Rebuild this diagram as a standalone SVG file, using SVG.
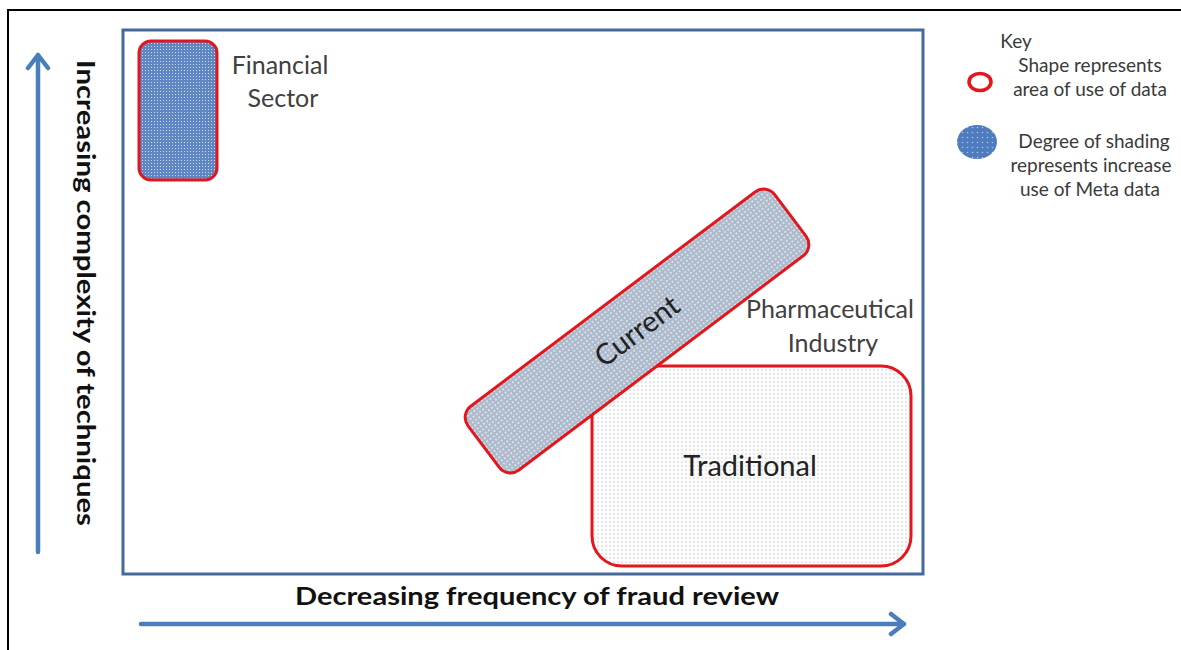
<svg xmlns="http://www.w3.org/2000/svg" width="1181" height="650" viewBox="0 0 1181 650">
  <defs>
    <style>
      .frame { fill: none; stroke: #000; stroke-width: 2; }
      .plot { fill: #fff; stroke: #44699b; stroke-width: 3; }
      .area { stroke: #e3151d; stroke-width: 3; }
      .axis { fill: none; stroke: #4a7ebb; stroke-width: 4.5; stroke-linecap: round; stroke-linejoin: round; }
      .lbl { font-family: Lato, "Open Sans", "Liberation Sans", sans-serif; fill: #404040; text-anchor: middle; }
      .inner { font-family: Lato, "Open Sans", "Liberation Sans", sans-serif; fill: #222; text-anchor: middle; }
      .axt { font-family: Lato, "Open Sans", "Liberation Sans", sans-serif; font-weight: bold; fill: #111; text-anchor: middle; }
      .key { font-family: Lato, "Open Sans", "Liberation Sans", sans-serif; fill: #3a3a3a; text-anchor: middle; font-size: 19px; }
    </style>
    <pattern id="dense" width="3" height="3" patternUnits="userSpaceOnUse">
      <rect width="3" height="3" fill="#5f87c3"/>
      <rect x="1" y="1" width="1" height="1" fill="#c9d8ee"/>
    </pattern>
    <pattern id="medium" width="4" height="4" patternUnits="userSpaceOnUse">
      <rect width="4" height="4" fill="#acbacb"/>
      <circle cx="2" cy="2" r="0.9" fill="#eef2f7"/>
    </pattern>
    <pattern id="light" width="4" height="4" patternUnits="userSpaceOnUse">
      <rect width="4" height="4" fill="#fcfcfc"/>
      <circle cx="2" cy="2" r="0.7" fill="#c2c2c2"/>
    </pattern>
    <pattern id="keydots" width="5" height="5" patternUnits="userSpaceOnUse">
      <rect width="5" height="5" fill="#4f7cbf"/>
      <circle cx="2.5" cy="2.5" r="0.8" fill="#a9c1e4"/>
    </pattern>
  </defs>

  <rect width="1181" height="650" fill="#fff"/>
  <rect class="frame" x="8" y="10" width="1190" height="660"/>

  <!-- plotting area -->
  <rect class="plot" x="123" y="30" width="800" height="544"/>

  <!-- axes -->
  <g id="connectors">
    <path class="axis" d="M38,552 V55 M28,68 L38,55 L48,68"/>
    <path class="axis" d="M141,624 H904 M891,614 L904,624 L891,634"/>
  </g>

  <text class="axt" font-size="24" transform="translate(77,293) rotate(90)" textLength="466" lengthAdjust="spacingAndGlyphs">Increasing complexity of techniques</text>
  <text class="axt" x="537" y="605" font-size="24" textLength="484" lengthAdjust="spacingAndGlyphs">Decreasing frequency of fraud review</text>

  <!-- financial sector -->
  <g id="financial">
    <rect class="area" x="139" y="41" width="78" height="139" rx="12" fill="url(#dense)"/>
    <text class="lbl" x="280" y="74" font-size="25">Financial</text>
    <text class="lbl" x="283" y="107" font-size="25">Sector</text>
  </g>

  <!-- traditional -->
  <g id="traditional">
    <rect class="area" x="592" y="366" width="319" height="200" rx="30" fill="url(#light)"/>
    <text class="inner" x="750" y="476" font-size="29">Traditional</text>
  </g>

  <!-- pharmaceutical label -->
  <g id="pharma">
    <text class="lbl" x="830" y="318" font-size="25">Pharmaceutical</text>
    <text class="lbl" x="833" y="352" font-size="25">Industry</text>
  </g>

  <!-- current -->
  <g id="current" transform="translate(637,331) rotate(-37)">
    <rect class="area" x="-192" y="-40" width="384" height="80" rx="14" fill="url(#medium)"/>
    <text class="inner" x="0" y="10" font-size="29">Current</text>
  </g>

  <!-- key -->
  <g id="key">
    <text class="key" x="1016" y="48" font-size="18">Key</text>
    <ellipse cx="980" cy="82" rx="11" ry="8.5" fill="none" stroke="#e3151d" stroke-width="3.5"/>
    <text class="key" x="1090" y="72">Shape represents</text>
    <text class="key" x="1090" y="96">area of use of data</text>
    <ellipse cx="977" cy="142" rx="20" ry="17" fill="url(#keydots)"/>
    <text class="key" x="1094" y="148">Degree of shading</text>
    <text class="key" x="1091" y="172">represents increase</text>
    <text class="key" x="1090" y="196">use of Meta data</text>
  </g>
</svg>
